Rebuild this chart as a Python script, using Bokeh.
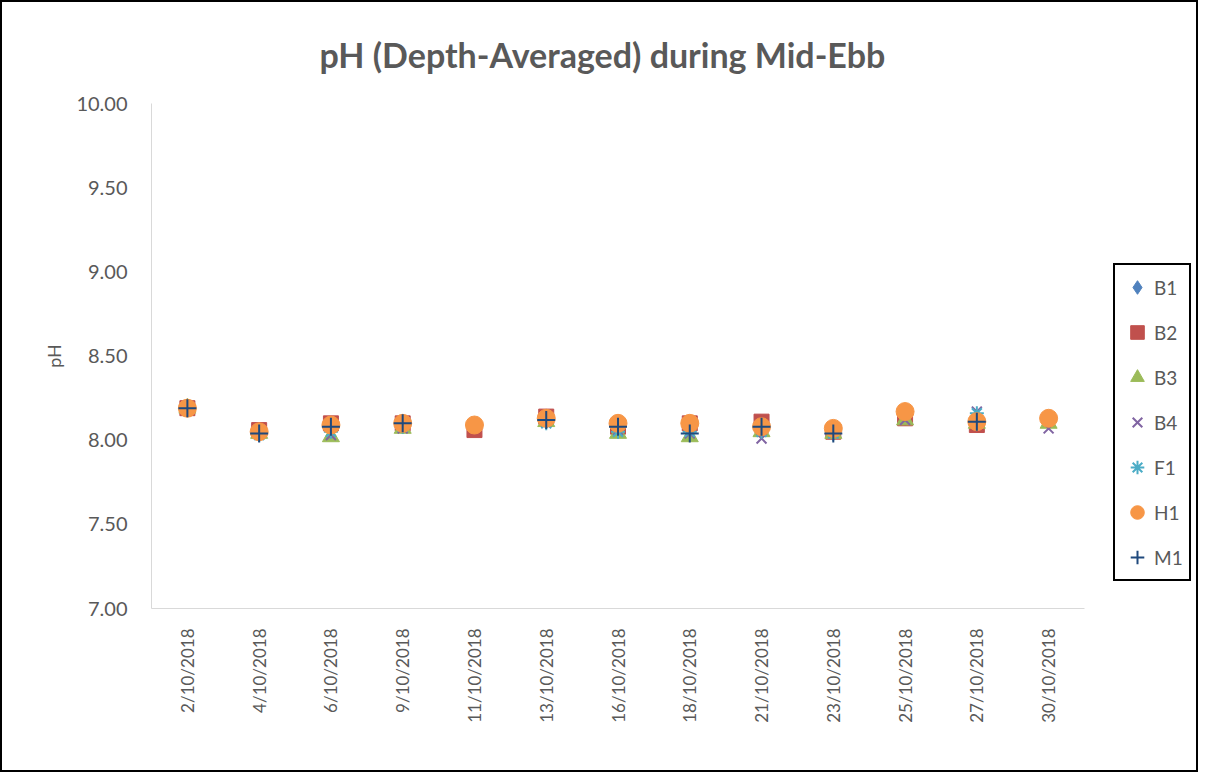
import math
from bokeh.plotting import figure
from bokeh.models import (Range1d, FixedTicker, NumeralTickFormatter,
                          Legend, LegendItem, ColumnDataSource)
from bokeh.embed import file_html
from bokeh.resources import INLINE

nan = float("nan")

dates = ["2/10/2018", "4/10/2018", "6/10/2018", "9/10/2018", "11/10/2018",
         "13/10/2018", "16/10/2018", "18/10/2018", "21/10/2018", "23/10/2018",
         "25/10/2018", "27/10/2018", "30/10/2018"]

B1 = [8.19, 8.05, 8.07, 8.09, nan, 8.12, 8.07, 8.07, 8.07, 8.05, 8.14, 8.10, nan]
B2 = [8.19, 8.06, 8.10, 8.10, 8.06, 8.14, 8.08, 8.10, 8.11, 8.05, 8.13, 8.09, nan]
B3 = [8.19, 8.04, 8.02, 8.07, nan, 8.11, 8.04, 8.02, 8.05, 8.04, 8.12, 8.10, 8.10]
B4 = [8.19, 8.04, 8.03, 8.07, nan, 8.11, 8.06, 8.04, 8.01, 8.04, 8.12, 8.17, 8.07]
F1 = [8.19, 8.03, 8.05, 8.08, nan, 8.10, 8.05, 8.05, 8.05, 8.04, nan, 8.16, nan]
H1 = [8.19, 8.05, 8.09, 8.10, 8.09, 8.13, 8.10, 8.10, 8.08, 8.07, 8.17, 8.11, 8.13]
M1 = [8.19, 8.04, 8.08, 8.10, nan, 8.12, 8.08, 8.04, 8.08, 8.04, nan, 8.11, nan]

y_ticks = [7.0, 7.5, 8.0, 8.5, 9.0, 9.5, 10.0]

series = [
    ("B1", B1, "diamond", "#4F81BD", 18),
    ("B2", B2, "square", "#C0504D", 15),
    ("B3", B3, "triangle", "#9BBB59", 17),
    ("B4", B4, "x", "#8064A2", 14),
    ("F1", F1, "asterisk", "#4BACC6", 14),
    ("H1", H1, "circle", "#F79646", 18),
    ("M1", M1, "cross", "#1F497D", 18),
]

FONT = "Lato"
GREY = "#595959"

W, H = 1198, 772
BL, BR, BT = 149, 6, 100
FRAME_H = 506
CAT_PX = 933 / len(dates)          # pixel width of one category slot
frame_w = W - BL - BR
idx = list(range(len(dates)))
x_end = -0.5 + frame_w / CAT_PX

p = figure(width=W, height=H, x_range=Range1d(-0.5, x_end),
           y_range=Range1d(7.0, 10.0), output_backend="svg", toolbar_location=None,
           min_border_left=BL, min_border_right=BR, min_border_top=BT,
           min_border_bottom=H - BT - FRAME_H)
p.title.text = "pH (Depth-Averaged) during Mid-Ebb"
p.title.align = "left"
p.title.offset = 168
p.title.text_font = FONT
p.title.text_font_size = "34px"
p.title.text_font_style = "bold"
p.title.text_color = GREY
p.title.standoff = 58

p.outline_line_color = None
p.xgrid.grid_line_color = None
p.ygrid.grid_line_color = None
p.styles = {"border": "2px solid black"}

p.yaxis.ticker = FixedTicker(ticks=y_ticks)
p.yaxis.formatter = NumeralTickFormatter(format="0.00")
p.yaxis.axis_line_color = "#D9D9D9"
p.yaxis.major_tick_line_color = None
p.yaxis.minor_tick_line_color = None
p.yaxis.major_label_text_font = FONT
p.yaxis.major_label_text_font_size = "20px"
p.yaxis.major_label_text_color = GREY
p.yaxis.major_label_standoff = 18
p.yaxis.axis_label = "pH"
p.yaxis.axis_label_text_font = FONT
p.yaxis.axis_label_text_font_size = "18px"
p.yaxis.axis_label_text_font_style = "normal"
p.yaxis.axis_label_text_color = GREY
p.yaxis.axis_label_standoff = 8

p.xaxis.ticker = FixedTicker(ticks=idx)
p.xaxis.major_label_overrides = {i: d for i, d in zip(idx, dates)}
p.xaxis.bounds = (-0.5, len(dates) - 0.5)
p.xaxis.axis_line_color = "#D9D9D9"
p.xaxis.major_tick_line_color = None
p.xaxis.minor_tick_line_color = None
p.xaxis.major_label_orientation = math.pi / 2
p.xaxis.major_label_text_font = FONT
p.xaxis.major_label_text_font_size = "17px"
p.xaxis.major_label_text_color = GREY
p.xaxis.major_label_standoff = 14

items = []
for name, vals, marker, color, size in series:
    src = ColumnDataSource(dict(x=idx, y=vals))
    if marker in ("x", "asterisk", "cross"):
        r = p.scatter("x", "y", source=src, marker=marker, size=size,
                      line_color=color, line_width=2, fill_color=None)
    else:
        r = p.scatter("x", "y", source=src, marker=marker, size=size,
                      fill_color=color, line_color=color, line_width=1)
    items.append(LegendItem(label=name, renderers=[r]))

legend = Legend(items=items, location=(962, 27))
legend.border_line_color = "black"
legend.border_line_width = 2
legend.border_line_alpha = 1.0
legend.background_fill_color = "white"
legend.label_text_font = FONT
legend.label_text_font_size = "19px"
legend.label_text_color = GREY
legend.spacing = 11
legend.padding = 5
legend.margin = 0
legend.glyph_width = 34
legend.glyph_height = 34
legend.label_standoff = 0
legend.label_width = 30
p.add_layout(legend, "center")

open("out.html", "w").write(file_html(p, INLINE))
